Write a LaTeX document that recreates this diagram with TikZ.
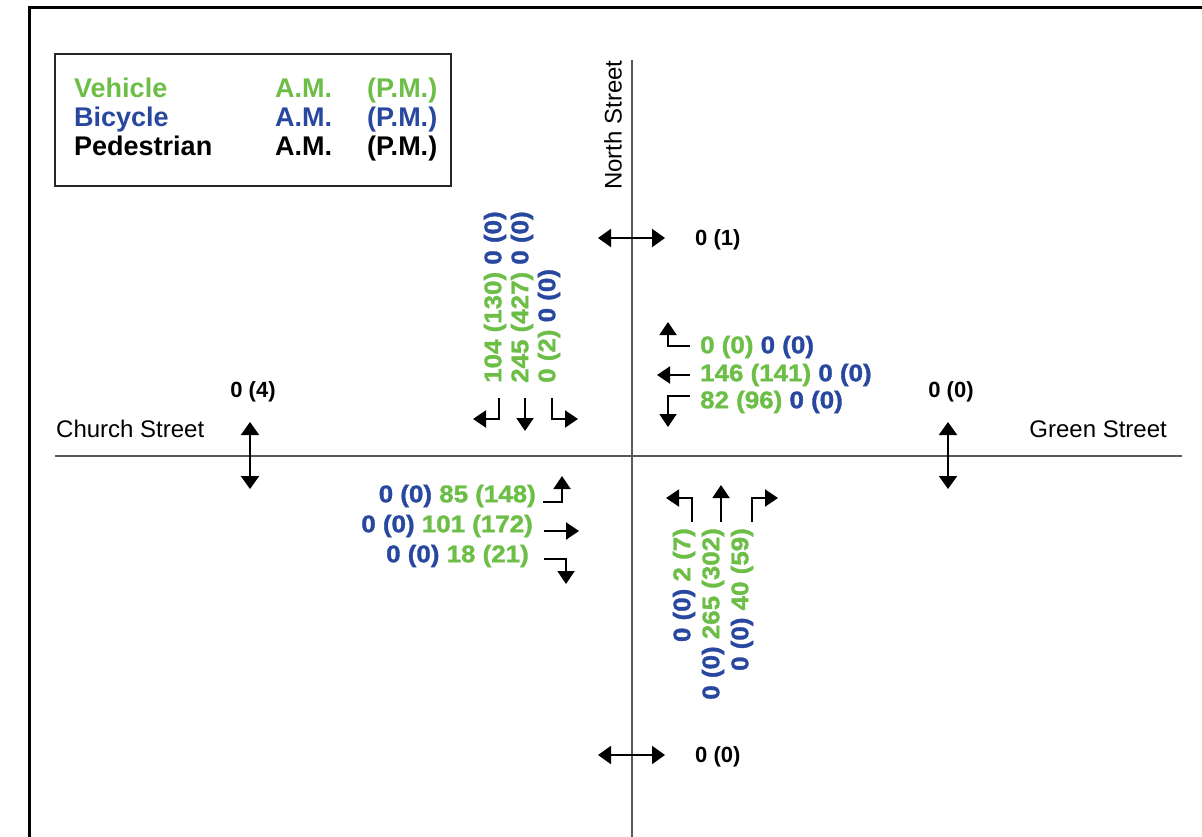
\documentclass[tikz,border=0pt]{standalone}
\usepackage{fontspec}
\usepackage{graphicx}
\setmainfont{Liberation Sans}
\newfontfamily\numfont[FakeBold=1.3]{Liberation Sans Bold}
\usetikzlibrary{arrows.meta}
\definecolor{veh}{RGB}{108,190,70}
\definecolor{bik}{RGB}{40,72,160}
\newcommand{\V}[1]{\textcolor{veh}{#1}}
\newcommand{\B}[1]{\textcolor{bik}{#1}}
\newcommand{\sx}[1]{\scalebox{1.08}[1]{#1}}
\tikzset{
  street/.style={draw=black!65, line width=1.4pt},
  turnarrow/.style={line width=2pt, -{Triangle[length=13pt,width=17pt]}},
  pedarrow/.style={line width=2pt, {Triangle[length=13pt,width=18pt]}-{Triangle[length=13pt,width=18pt]}},
  num/.style={inner sep=0pt, font=\fontsize{24}{28}\numfont},
  ped/.style={inner sep=0pt, font=\fontsize{22}{26}\selectfont\bfseries},
  leg/.style={inner sep=0pt, font=\fontsize{27}{30}\selectfont\bfseries, anchor=base west},
  sname/.style={inner sep=0pt, font=\fontsize{24}{28}\selectfont},
}
\begin{document}
\begin{tikzpicture}[x=1pt,y=-1pt]
\useasboundingbox (0,0) rectangle (1202,837);
\fill[white] (0,0) rectangle (1202,837);
% outer frame
\coordinate (fb) at (29.5,845);
\coordinate (fc) at (29.5,7.5);
\coordinate (fr) at (1210,7.5);
\draw[line width=2.5pt] (fb) -- (fc) -- (fr);
% legend
\node[draw=black!85, line width=2pt, minimum width=396pt, minimum height=132pt, anchor=north west, inner sep=0pt] (legend) at (54,53) {};
\node[leg, text=veh] (l1a) at (74,98) {Vehicle};
\node[leg, text=veh] (l1b) at (275,98) {A.M.};
\node[leg, text=veh] (l1c) at (367,98) {(P.M.)};
\node[leg, text=bik] (l2a) at (74,127) {Bicycle};
\node[leg, text=bik] (l2b) at (275,127) {A.M.};
\node[leg, text=bik] (l2c) at (367,127) {(P.M.)};
\node[leg] (l3a) at (74,156) {Pedestrian};
\node[leg] (l3b) at (275,156) {A.M.};
\node[leg] (l3c) at (367,156) {(P.M.)};
% streets
\coordinate (hw) at (55,456);
\coordinate (he) at (1182,456);
\coordinate (vn) at (632,60);
\coordinate (vs) at (632,840);
\draw[street] (hw) -- (he);
\draw[street] (vn) -- (vs);
\node[sname, rotate=90, anchor=west] (north) at (613,190) {North Street};
\node[sname, anchor=west] (church) at (56,429) {Church Street};
\node[sname, anchor=east] (green) at (1167,429) {Green Street};
% pedestrian crossings
\coordinate (pn1) at (598,238); \coordinate (pn2) at (665,238);
\draw[pedarrow] (pn1) -- (pn2);
\node[ped, anchor=west] (pnl) at (695,240) {0 (1)};
\coordinate (ps1) at (598,755); \coordinate (ps2) at (665,755);
\draw[pedarrow] (ps1) -- (ps2);
\node[ped, anchor=west] (psl) at (695,757) {0 (0)};
\coordinate (pw1) at (250,422); \coordinate (pw2) at (250,489);
\draw[pedarrow] (pw1) -- (pw2);
\node[ped] (pwl) at (253,392) {0 (4)};
\coordinate (pe1) at (948,422); \coordinate (pe2) at (948,489);
\draw[pedarrow] (pe1) -- (pe2);
\node[ped] (pel) at (951,392) {0 (0)};
% north approach (southbound)
\coordinate (n1a) at (499,398); \coordinate (n1b) at (499,419); \coordinate (n1c) at (473,419);
\draw[turnarrow] (n1a) -- (n1b) -- (n1c);
\coordinate (n2a) at (525,398); \coordinate (n2b) at (525,431);
\draw[turnarrow] (n2a) -- (n2b);
\coordinate (n3a) at (552,398); \coordinate (n3b) at (552,419); \coordinate (n3c) at (578,419);
\draw[turnarrow] (n3a) -- (n3b) -- (n3c);
\node[num, rotate=90, anchor=west] (nl1) at (495,383) {\sx{\V{104 (130)} \B{0 (0)}}};
\node[num, rotate=90, anchor=west] (nl2) at (522,383) {\sx{\V{245 (427)} \B{0 (0)}}};
\node[num, rotate=90, anchor=west] (nl3) at (549,383) {\sx{\V{0 (2)} \B{0 (0)}}};
% east approach (westbound)
\coordinate (e1a) at (690,346); \coordinate (e1b) at (668,346); \coordinate (e1c) at (668,322);
\draw[turnarrow] (e1a) -- (e1b) -- (e1c);
\coordinate (e2a) at (690,375); \coordinate (e2b) at (657,375);
\draw[turnarrow] (e2a) -- (e2b);
\coordinate (e3a) at (690,396); \coordinate (e3b) at (668,396); \coordinate (e3c) at (668,427);
\draw[turnarrow] (e3a) -- (e3b) -- (e3c);
\node[num, anchor=west] (el1) at (700,347) {\sx{\V{0 (0)} \B{0 (0)}}};
\node[num, anchor=west] (el2) at (700,375) {\sx{\V{146 (141)} \B{0 (0)}}};
\node[num, anchor=west] (el3) at (700,402) {\sx{\V{82 (96)} \B{0 (0)}}};
% west approach (eastbound)
\coordinate (w1a) at (543,502); \coordinate (w1b) at (562,502); \coordinate (w1c) at (562,476);
\draw[turnarrow] (w1a) -- (w1b) -- (w1c);
\coordinate (w2a) at (544,531); \coordinate (w2b) at (579,531);
\draw[turnarrow] (w2a) -- (w2b);
\coordinate (w3a) at (544,559); \coordinate (w3b) at (566,559); \coordinate (w3c) at (566,584);
\draw[turnarrow] (w3a) -- (w3b) -- (w3c);
\node[num, anchor=east] (wl1) at (536,496) {\sx{\B{0 (0)} \V{85 (148)}}};
\node[num, anchor=east] (wl2) at (533,526) {\sx{\B{0 (0)} \V{101 (172)}}};
\node[num, anchor=east] (wl3) at (529,556) {\sx{\B{0 (0)} \V{18 (21)}}};
% south approach (northbound)
\coordinate (s1a) at (692,522); \coordinate (s1b) at (692,498); \coordinate (s1c) at (666,498);
\draw[turnarrow] (s1a) -- (s1b) -- (s1c);
\coordinate (s2a) at (721,522); \coordinate (s2b) at (721,485);
\draw[turnarrow] (s2a) -- (s2b);
\coordinate (s3a) at (752,522); \coordinate (s3b) at (752,498); \coordinate (s3c) at (778,498);
\draw[turnarrow] (s3a) -- (s3b) -- (s3c);
\node[num, rotate=90, anchor=east] (sl1) at (684,528) {\sx{\B{0 (0)} \V{2 (7)}}};
\node[num, rotate=90, anchor=east] (sl2) at (713,528) {\sx{\B{0 (0)} \V{265 (302)}}};
\node[num, rotate=90, anchor=east] (sl3) at (742,528) {\sx{\B{0 (0)} \V{40 (59)}}};
\end{tikzpicture}
\end{document}
